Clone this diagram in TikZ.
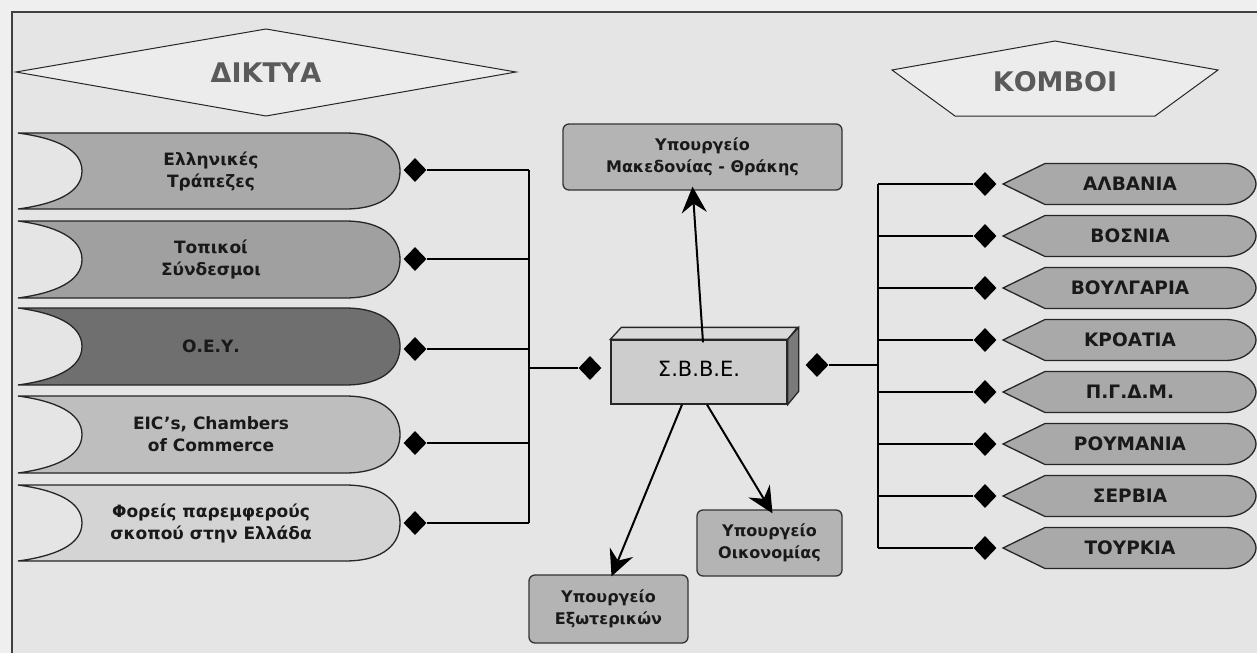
\documentclass[tikz,border=0pt]{standalone}
\usepackage{fontspec}
\setmainfont{DejaVu Sans}
\usetikzlibrary{shapes.geometric,arrows.meta}

\definecolor{pagebg}{HTML}{EFEFEF}
\definecolor{panel}{HTML}{E5E5E5}
\definecolor{titlefill}{HTML}{ECECEC}
\definecolor{titletext}{HTML}{5A5A5A}
\definecolor{netA}{HTML}{A9A9A9}
\definecolor{netB}{HTML}{A0A0A0}
\definecolor{netC}{HTML}{6F6F6F}
\definecolor{netD}{HTML}{BEBEBE}
\definecolor{netE}{HTML}{D4D4D4}
\definecolor{nodegray}{HTML}{A9A9A9}
\definecolor{boxgray}{HTML}{B4B4B4}
\definecolor{cubefront}{HTML}{CDCDCD}
\definecolor{cubetop}{HTML}{DADADA}
\definecolor{cubeside}{HTML}{7A7A7A}

\begin{document}
\begin{tikzpicture}[x=1pt,y=-1pt,
  banner/.style={draw=black!85,line width=1.3pt},
  ltext/.style={align=center,font=\fontsize{17}{22}\selectfont\bfseries,text=black!90},
  rtext/.style={font=\fontsize{18.5}{20}\selectfont\bfseries,text=black!90},
  title/.style={font=\fontsize{27}{30}\selectfont\bfseries,text=titletext},
  dmd/.style={diamond,fill=black,inner sep=0pt,minimum width=23pt,minimum height=24pt},
  wire/.style={line width=1.7pt},
  ministry/.style={draw=black!80,line width=1.3pt,rounded corners=6pt,fill=boxgray,
    align=center,font=\fontsize{16}{22}\selectfont\bfseries,text=black!90},
  link/.style={line width=2pt,-{Stealth[length=26pt,width=25pt,inset=9pt]}}]
  \useasboundingbox (0,0) rectangle (1257,653);
  \fill[pagebg] (0,0) rectangle (1257,653);
  \fill[panel] (12,12) rectangle (1257,653);
  \draw[line width=1.5pt,black!75] (12,653) -- (12,12) -- (1257,12);

  % titles
  \draw[banner,fill=titlefill,line width=1pt] (16,72) -- (266,29) -- (516,72) -- (266,116) -- cycle;
  \node[title] (diktya) at (266,73) {ΔΙΚΤΥΑ};
  \draw[banner,fill=titlefill,line width=1pt] (892,70) -- (1055,41) -- (1218,70) -- (1155,116) -- (955,116) -- cycle;
  \node[title] (komvoi) at (1055,82) {ΚΟΜΒΟΙ};

  \coordinate (ltrunk) at (529,0);
  \coordinate (rtrunk) at (878,0);

  % networks on the left
  \foreach \i/\t/\b/\dy/\col/\txt in {
      1/133/209/170/netA/{Ελληνικές\\Τράπεζες},
      2/221/298/259/netB/{Τοπικοί\\Σύνδεσμοι},
      3/308/385/349/netC/{Ο.Ε.Υ.},
      4/396/473/443/netD/{EIC’s, Chambers\\of Commerce},
      5/485/561/523/netE/{Φορείς παρεμφερούς\\σκοπού στην Ελλάδα}} {
    \pgfmathsetmacro\m{(\t+\b)/2}
    \draw[banner,fill=\col] (18,\t) .. controls (55,\t+5) and (82,\m-22) .. (82,\m)
      .. controls (82,\m+22) and (55,\b-5) .. (18,\b) -- (345,\b)
      .. controls (385,\b) and (400,\m+20) .. (400,\m)
      .. controls (400,\m-20) and (385,\t) .. (345,\t) -- cycle;
    \node[ltext] (net\i) at (211,\m) {\txt};
    \node[dmd] (dn\i) at (415,\dy) {};
  }
  \foreach \i in {1,...,5}
    \draw[wire] (dn\i) -- (dn\i -| ltrunk);
  \draw[wire] (dn1 -| ltrunk) -- (dn5 -| ltrunk);

  % centre
  \node[draw=black!85,line width=1.3pt,fill=cubefront,minimum width=176pt,minimum height=64pt,
    font=\fontsize{21}{24}\selectfont] (sbbe) at (699,372) {\raisebox{6pt}{Σ.Β.Β.Ε.}};
  \draw[banner,fill=cubetop] (sbbe.north west) -- ++(11,-12) -- ++(176,0) -- (sbbe.north east) -- cycle;
  \draw[banner,fill=cubeside] (sbbe.north east) -- ++(11,-12) -- ++(0,64) -- (sbbe.south east) -- cycle;
  \node[dmd] (dl) at (590,368) {};
  \node[dmd] (dr) at (817,365) {};
  \draw[wire] (dl) -- (dl -| ltrunk);
  \draw[wire] (dr) -- (dr -| rtrunk);

  % ministries
  \node[ministry,minimum width=279pt,minimum height=66pt] (mac) at (702.5,157) {Υπουργείο\\Μακεδονίας - Θράκης};
  \node[ministry,minimum width=159pt,minimum height=68pt] (ext) at (608.5,609) {Υπουργείο\\Εξωτερικών};
  \node[ministry,minimum width=145pt,minimum height=66pt] (oik) at (769.5,543) {Υπουργείο\\Οικονομίας};
  \draw[link] ([xshift=4pt,yshift=-3pt]sbbe.north) -- ([xshift=-10pt,yshift=4pt]mac.south);
  \draw[link] ([xshift=-17pt]sbbe.south) -- ([xshift=3pt,yshift=-2pt]ext.north);
  \draw[link] ([xshift=8pt]sbbe.south) -- ([xshift=3pt,yshift=-4pt]oik.north);

  % nodes on the right
  \foreach \i/\c/\txt in {1/184/ΑΛΒΑΝΙΑ, 2/236/ΒΟΣΝΙΑ, 3/288/ΒΟΥΛΓΑΡΙΑ, 4/340/ΚΡΟΑΤΙΑ,
      5/392/{Π.Γ.Δ.Μ.}, 6/444/ΡΟΥΜΑΝΙΑ, 7/496/ΣΕΡΒΙΑ, 8/548/ΤΟΥΡΚΙΑ} {
    \draw[banner,fill=nodegray] (1003,\c) -- (1045,\c-20.5) -- (1225,\c-20.5)
      .. controls (1247,\c-20.5) and (1256,\c-8) .. (1256,\c)
      .. controls (1256,\c+8) and (1247,\c+20.5) .. (1225,\c+20.5) -- (1045,\c+20.5) -- cycle;
    \node[rtext] (country\i) at (1130,\c) {\txt};
    \node[dmd] (rd\i) at (985,\c) {};
  }
  \foreach \i in {1,...,8}
    \draw[wire] (rd\i) -- (rd\i -| rtrunk);
  \draw[wire] (rd1 -| rtrunk) -- (rd8 -| rtrunk);
\end{tikzpicture}
\end{document}
